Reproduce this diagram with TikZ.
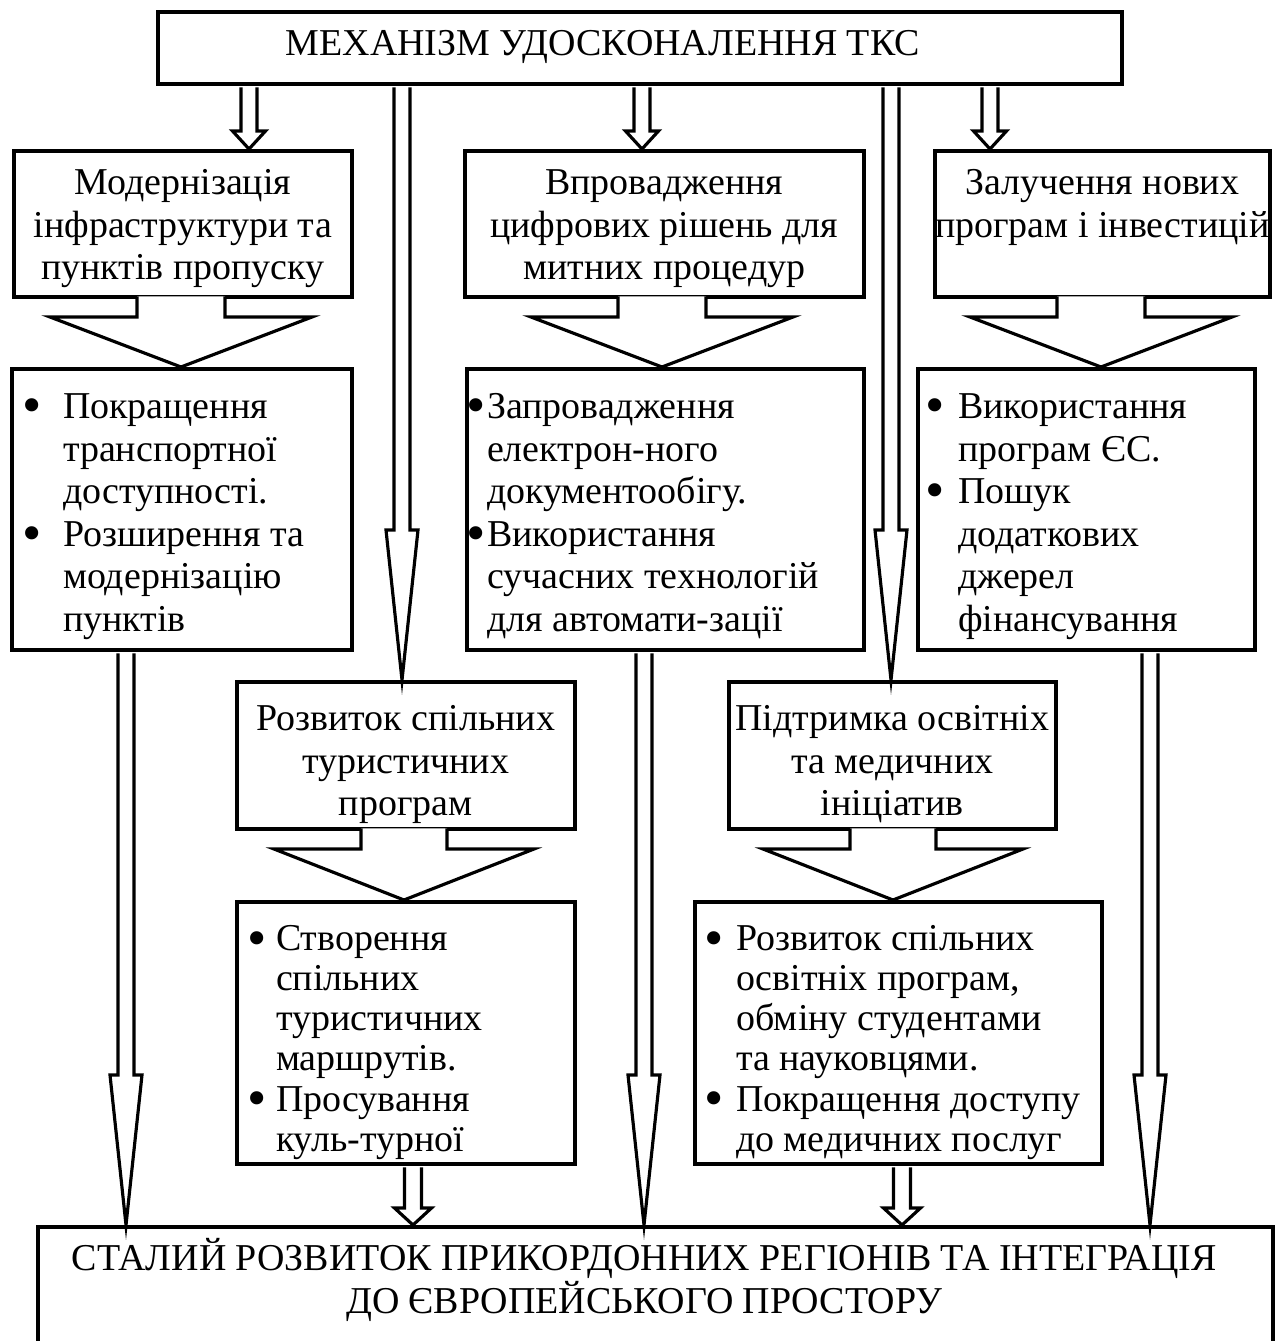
\documentclass[tikz,border=0pt]{standalone}
\usepackage{fontspec}
\usepackage{graphicx}
\setmainfont{Liberation Serif}
\usetikzlibrary{calc}

\newdimen\pxu \pxu=0.02cm

% text of a box: width, height, top space, content
\newcommand{\boxtext}[4]{\parbox[t][#2\pxu][t]{#1\pxu}{\vspace*{#3\pxu}#4}}
% bulleted list: left space, gap after bullet, rows
\newcommand{\itemlist}[3]{\hspace*{#1\pxu}\begin{tabular}[t]{@{}l@{\hspace{#2\pxu}}l@{}}#3\end{tabular}}
\newcommand{\bul}{\raisebox{-3pt}{\scalebox{1.45}{\textbullet}}}
% hollow block arrow: [start shift], x, from, to, stem half, head half, head length
\newcommand{\blockarrow}[7][-1pt]{%
  \draw[arrowline] let \p1 = (#2,0), \p2 = (#3.south), \p3 = (#4.north) in
    ({\x1-#5*\pxu},{\y2+(#1)}) -- ({\x1-#5*\pxu},{\y3+#7*\pxu}) -- ({\x1-#6*\pxu},{\y3+#7*\pxu})
    -- (\x1,\y3) -- ({\x1+#6*\pxu},{\y3+#7*\pxu}) -- ({\x1+#5*\pxu},{\y3+#7*\pxu})
    -- ({\x1+#5*\pxu},{\y2+(#1)});}

\begin{document}
\begin{tikzpicture}[x=0.02cm, y=-0.02cm,
    box/.style={draw, line width=2pt, inner sep=0pt, anchor=north west,
      font=\fontsize{21.6}{24.2}\selectfont},
    arrowline/.style={line width=1.8pt, fill=white}]

        \useasboundingbox (0,0) rectangle (1278,1341);

        \node[box] (mech) at (156,10) {\boxtext{964}{72}{19}{\centering\hspace*{-74\pxu}МЕХАНІЗМ УДОСКОНАЛЕННЯ ТКС}};

        \node[box] (modern) at (12,149) {\boxtext{338}{146}{19}{\centering Модернізація\\ інфраструктури та\\ пунктів пропуску}};
        \node[box] (digit) at (463,149) {\boxtext{399}{146}{19}{\centering Впровадження\\ цифрових рішень для\\ митних процедур}};
        \node[box] (invest) at (933,149) {\boxtext{335}{146}{19}{\centering Залучення нових\\ \makebox[\linewidth]{програм і інвестицій}}};

        \node[box] (modernlist) at (10,367) {\boxtext{340}{281}{20}{\itemlist{11}{21}{%
            \bul & Покращення\\ & транспортної\\ & доступності.\\
            \bul & Розширення та\\ & модернізацію\\ & пунктів}}};
        \node[box] (digitlist) at (465,367) {\boxtext{397}{281}{20}{\itemlist{0}{1}{%
            \bul & Запровадження\\ & електрон-ного\\ & документообігу.\\
            \bul & Використання\\ & сучасних технологій\\ & для автомати-зації}}};
        \node[box] (investlist) at (916,367) {\boxtext{337}{281}{20}{\itemlist{8}{13}{%
            \bul & Використання\\ & програм ЄС.\\
            \bul & Пошук\\ & додаткових\\ & джерел\\ & фінансування}}};

        \node[box] (tour) at (235,680) {\boxtext{338}{147}{24}{\centering Розвиток спільних\\ туристичних\\ програм}};
        \node[box] (support) at (727,680) {\boxtext{327}{147}{24}{\centering Підтримка освітніх\\ та медичних\\ ініціатив}};

        \node[box] (tourlist) at (235,900) {\boxtext{338}{262}{21}{\fontsize{21.6}{22.8}\selectfont\itemlist{11}{9}{%
            \bul & Створення\\ & спільних\\ & туристичних\\ & маршрутів.\\
            \bul & Просування\\ & куль-турної}}};
        \node[box] (supportlist) at (693,900) {\boxtext{407}{262}{21}{\fontsize{21.6}{22.8}\selectfont\itemlist{10}{12}{%
            \bul & Розвиток спільних\\ & освітніх програм,\\ & обміну студентами\\ & та науковцями.\\
            \bul & Покращення доступу\\ & до медичних послуг}}};

        \node[box] (result) at (36,1225) {\boxtext{1235}{140}{12}{\centering \hspace*{-22\pxu}СТАЛИЙ РОЗВИТОК ПРИКОРДОННИХ РЕГІОНІВ ТА ІНТЕГРАЦІЯ\\ \hspace*{-22\pxu}ДО ЄВРОПЕЙСЬКОГО ПРОСТОРУ}};

        % from the mechanism
        \blockarrow{249}{mech}{modern}{8}{16.5}{18}
        \blockarrow{642}{mech}{digit}{8}{16.5}{18}
        \blockarrow{990}{mech}{invest}{8}{16.5}{18}
        \blockarrow{402}{mech}{tour}{8}{16}{150}
        \blockarrow{891}{mech}{support}{8}{16}{150}

        % wide arrows
        \blockarrow[1.2pt]{181}{modern}{modernlist}{44}{131}{50}
        \blockarrow[1.2pt]{662}{digit}{digitlist}{44}{131}{50}
        \blockarrow[1.2pt]{1101}{invest}{investlist}{44}{131}{50}
        \blockarrow[1.2pt]{404}{tour}{tourlist}{43}{130}{51}
        \blockarrow[1.2pt]{893}{support}{supportlist}{43}{130}{51}

        % to the result
        \blockarrow{126}{modernlist}{result}{8}{16}{150}
        \blockarrow{644}{digitlist}{result}{8}{16}{150}
        \blockarrow{1150}{investlist}{result}{8}{16}{150}
        \blockarrow{413}{tourlist}{result}{8.5}{18.5}{17}
        \blockarrow{902}{supportlist}{result}{8.5}{18.5}{17}

    \end{tikzpicture}
\end{document}
